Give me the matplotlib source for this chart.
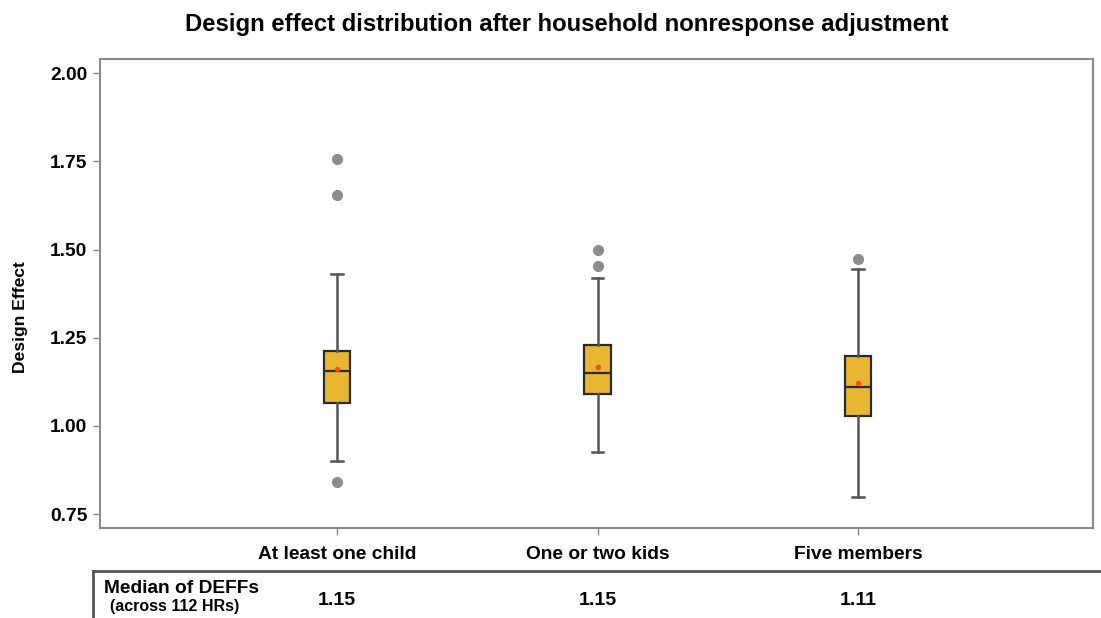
import matplotlib.pyplot as plt
from matplotlib import transforms
from matplotlib.lines import Line2D

plt.rcParams['font.family'] = ['Liberation Sans', 'DejaVu Sans']

# values
categories = ["At least one child", "One or two kids", "Five members"]
whislo = [0.900, 0.925, 0.798]
q1 = [1.066, 1.090, 1.029]
med = [1.156, 1.151, 1.109]
q3 = [1.212, 1.230, 1.199]
whishi = [1.430, 1.419, 1.444]
means = [1.161, 1.168, 1.121]
fliers = [[1.757, 1.655, 0.842], [1.499, 1.453], [1.473]]
table_medians = ["1.15", "1.15", "1.11"]
yticks = [0.75, 1.00, 1.25, 1.50, 1.75, 2.00]


def main():
    fig = plt.figure(figsize=(11.01, 6.18), dpi=100)
    ax = fig.add_axes([0.0908, 0.1451, 0.9019, 0.7589])

    stats = []
    for i, name in enumerate(categories):
        stats.append(dict(label=name, whislo=whislo[i], q1=q1[i], med=med[i],
                          q3=q3[i], whishi=whishi[i], mean=means[i], fliers=fliers[i]))

    positions = list(range(1, len(categories) + 1))
    ax.bxp(
        stats, positions=positions, widths=0.1, patch_artist=True, showmeans=True,
        boxprops=dict(facecolor="#e8b630", edgecolor="#2b2b2b", linewidth=1.6),
        medianprops=dict(color="#2b2b2b", linewidth=1.6),
        whiskerprops=dict(color="#555555", linewidth=1.8),
        capprops=dict(color="#555555", linewidth=1.8),
        capwidths=0.045,
        flierprops=dict(marker="o", markerfacecolor="#8c8c8c", markeredgecolor="#8c8c8c", markersize=7),
        meanprops=dict(marker="o", markerfacecolor="#f4501e", markeredgecolor="#f4501e", markersize=3),
    )

    ax.set_xlim(0.09, 3.902)
    ax.set_ylim(0.7094, 2.0397)
    ax.set_yticks(yticks)
    ax.set_yticklabels([f"{v:.2f}" for v in yticks], fontsize=13.8, fontweight="bold")
    ax.set_xticks(positions)
    ax.set_xticklabels(categories, fontsize=13.8, fontweight="bold")
    ax.tick_params(axis="y", length=5, width=1, color="#888888", pad=4)
    ax.tick_params(axis="x", length=5, width=1, color="#888888", pad=8)
    for spine in ax.spines.values():
        spine.set_color("#8a8a8a")
        spine.set_linewidth(1.5)

    fig.text(0.0182, 0.487, "Design Effect", rotation=90, ha="center", va="center",
             fontsize=12.6, fontweight="bold")
    fig.text(0.515, 0.96, "Design effect distribution after household nonresponse adjustment",
             ha="center", va="center", fontsize=17.2, fontweight="bold")

    # table under the chart
    fig.add_artist(Line2D([0.0845, 1.0], [0.0761, 0.0761], transform=fig.transFigure,
                          color="#555555", linewidth=2))
    fig.add_artist(Line2D([0.0845, 0.0845], [0.0761, 0.0], transform=fig.transFigure,
                          color="#555555", linewidth=2))
    fig.text(0.0945, 0.0485, "Median of DEFFs", ha="left", va="center", fontsize=13.8, fontweight="bold")
    fig.text(0.1, 0.0178, "(across 112 HRs)", ha="left", va="center", fontsize=11.5, fontweight="bold")
    trans = transforms.blended_transform_factory(ax.transData, fig.transFigure)
    for pos, value in zip(positions, table_medians):
        ax.text(pos, 0.029, value, transform=trans, ha="center", va="center",
                fontsize=14, fontweight="bold", clip_on=False)

    fig.savefig("out.png", dpi=100)


if __name__ == "__main__":
    main()
